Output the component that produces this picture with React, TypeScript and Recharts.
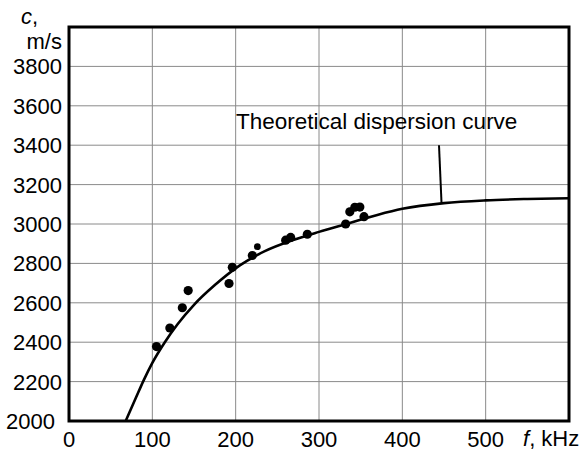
import React from "react";
import {
  ComposedChart,
  Line,
  Scatter,
  XAxis,
  YAxis,
  CartesianGrid,
  ReferenceLine,
} from "recharts";

// Theoretical dispersion curve (f in kHz, c in m/s)
const curveF = [68, 80, 90, 100, 115, 130, 150, 175, 205, 235, 270, 300, 335, 370, 400, 450, 500, 550, 600];
const curveC = [2000, 2115, 2210, 2295, 2400, 2490, 2590, 2690, 2790, 2862, 2920, 2960, 3003, 3046, 3077, 3106, 3120, 3127, 3131];

// Measured points
const measF = [105, 121, 136, 143, 192, 196, 220, 260, 266, 286, 332, 337, 343, 349, 354];
const measC = [2378, 2472, 2575, 2662, 2698, 2780, 2840, 2918, 2932, 2948, 3000, 3062, 3085, 3086, 3037];
const smallF = [226];
const smallC = [2885];

const xTicks = [0, 100, 200, 300, 400, 500];
const yTicks = [2000, 2200, 2400, 2600, 2800, 3000, 3200, 3400, 3600, 3800];
const xGrid = [100, 200, 300, 400, 500];
const yGrid = [2200, 2400, 2600, 2800, 3000, 3200, 3400, 3600, 3800];

const curveData = curveF.map((f, i) => ({ f, c: curveC[i] }));
const measData = measF.map((f, i) => ({ f, c: measC[i] }));
const smallData = smallF.map((f, i) => ({ f, c: smallC[i] }));

const FONT = "'Liberation Sans', Arial, sans-serif";

const W = 588;
const H = 452;
const PL = 69;
const PT = 27;
const PR = 569;
const PB = 421;

const YTick = (props: any) => {
  const { x, y, payload } = props;
  const shift = payload.value === 2000 ? -7 : 0;
  return (
    <text
      x={x + shift}
      y={y}
      dy="0.36em"
      textAnchor="end"
      fontSize={22}
      fontFamily={FONT}
      fill="#000"
    >
      {payload.value}
    </text>
  );
};

const BigDot = (props: any) => {
  const { cx, cy } = props;
  return <circle cx={cx} cy={cy} r={4.6} fill="#000" />;
};
const SmallDot = (props: any) => {
  const { cx, cy } = props;
  return <circle cx={cx} cy={cy} r={3.4} fill="#000" />;
};

export default function App() {
  const xScale = (v: number) => PL + ((v - 0) / 600) * (PR - PL);
  const yScale = (v: number) => PB - ((v - 2000) / 2000) * (PB - PT);
  return (
    <div style={{ position: "absolute", left: 0, top: 0, width: W, height: H, background: "#fff" }}>
      <ComposedChart
        width={W}
        height={H}
        margin={{ top: PT, right: W - PR, bottom: 0, left: 0 }}
      >
        <CartesianGrid
          stroke="#8a8a8a"
          strokeWidth={1}
          horizontalPoints={yGrid.map(yScale)}
          verticalPoints={xGrid.map(xScale)}
        />
        <XAxis
          type="number"
          dataKey="f"
          domain={[0, 600]}
          ticks={xTicks}
          interval={0}
          height={H - PB}
          axisLine={false}
          tickLine={false}
          tickSize={0}
          tickMargin={10}
          tick={{ fontSize: 22, fill: "#000", fontFamily: FONT }}
          allowDataOverflow
        />
        <YAxis
          type="number"
          dataKey="c"
          domain={[2000, 4000]}
          ticks={yTicks}
          interval={0}
          width={PL}
          axisLine={false}
          tickLine={false}
          tickSize={0}
          tickMargin={7}
          tick={<YTick />}
          allowDataOverflow
        />
        <Line
          data={curveData}
          dataKey="c"
          type="monotone"
          stroke="#000"
          strokeWidth={2.6}
          dot={false}
          activeDot={false}
          isAnimationActive={false}
        />
        <Scatter
          data={measData}
          dataKey="c"
          shape={<BigDot />}
          isAnimationActive={false}
        />
        <Scatter
          data={smallData}
          dataKey="c"
          shape={<SmallDot />}
          isAnimationActive={false}
        />
        <ReferenceLine
          segment={[
            { x: 444, y: 3400 },
            { x: 447, y: 3108 },
          ]}
          stroke="#000"
          strokeWidth={2}
        />
      </ComposedChart>
      <svg
        width={W}
        height={H}
        style={{ position: "absolute", left: 0, top: 0, pointerEvents: "none" }}
      >
        <rect
          x={PL}
          y={PT}
          width={PR - PL}
          height={PB - PT}
          fill="none"
          stroke="#000"
          strokeWidth={3}
        />
        <text x={21} y={24} fontSize={22} fontFamily={FONT} fontStyle="italic" fill="#000">
          c<tspan fontStyle="normal">,</tspan>
        </text>
        <text x={62} y={49} fontSize={22} fontFamily={FONT} textAnchor="end" fill="#000">
          m/s
        </text>
        <text x={523} y={446} fontSize={22} fontFamily={FONT} fill="#000">
          <tspan fontStyle="italic">f</tspan>, kHz
        </text>
        <text x={236} y={129} fontSize={22.5} fontFamily={FONT} fill="#000">
          Theoretical dispersion curve
        </text>
      </svg>
    </div>
  );
}
